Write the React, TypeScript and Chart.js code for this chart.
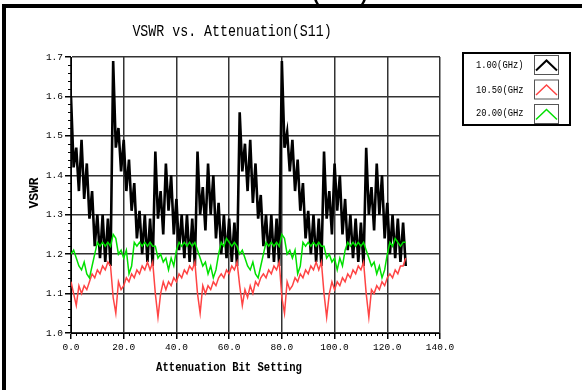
import { useEffect, useRef } from 'react';
import { Chart, registerables } from 'chart.js';

Chart.register(...registerables);

// Attenuation bit settings 0..127 (x positions)
const bitSettings: number[] = Array.from({ length: 128 }, (_, i) => i);

const xTickValues = [0, 20, 40, 60, 80, 100, 120, 140];
const yTickValues = [1.0, 1.1, 1.2, 1.3, 1.4, 1.5, 1.6, 1.7];

const seriesNames = ['1.00(GHz)', '10.50(GHz', '20.00(GHz'];
const seriesColors = ['#000000', '#ff4444', '#00e000'];

const vswr1GHz: number[] = [
  1.60, 1.42, 1.47, 1.36, 1.49, 1.34, 1.43, 1.29, 1.36, 1.22, 1.30, 1.19, 1.30, 1.18, 1.29, 1.17,
  1.69, 1.47, 1.52, 1.41, 1.49, 1.36, 1.44, 1.31, 1.38, 1.24, 1.31, 1.20, 1.30, 1.18, 1.29, 1.17,
  1.46, 1.29, 1.36, 1.25, 1.43, 1.31, 1.40, 1.25, 1.34, 1.21, 1.30, 1.19, 1.30, 1.18, 1.29, 1.17,
  1.46, 1.30, 1.37, 1.26, 1.43, 1.30, 1.40, 1.24, 1.33, 1.20, 1.30, 1.19, 1.29, 1.18, 1.28, 1.17,
  1.56, 1.41, 1.48, 1.36, 1.49, 1.33, 1.43, 1.29, 1.35, 1.22, 1.30, 1.19, 1.30, 1.18, 1.29, 1.17,
  1.69, 1.47, 1.51, 1.41, 1.49, 1.36, 1.44, 1.31, 1.38, 1.24, 1.31, 1.20, 1.30, 1.18, 1.29, 1.17,
  1.46, 1.29, 1.36, 1.25, 1.43, 1.31, 1.40, 1.25, 1.34, 1.21, 1.30, 1.19, 1.29, 1.18, 1.28, 1.17,
  1.47, 1.30, 1.37, 1.26, 1.43, 1.30, 1.40, 1.24, 1.33, 1.20, 1.30, 1.19, 1.29, 1.18, 1.28, 1.17,
];

const vswr10p5GHz: number[] = [
  1.13, 1.10, 1.07, 1.12, 1.10, 1.12, 1.11, 1.13, 1.15, 1.14, 1.16, 1.15, 1.17, 1.16, 1.18, 1.17,
  1.09, 1.05, 1.13, 1.11, 1.12, 1.14, 1.13, 1.15, 1.14, 1.16, 1.15, 1.17, 1.16, 1.18, 1.16, 1.18,
  1.10, 1.04, 1.10, 1.13, 1.11, 1.13, 1.12, 1.14, 1.13, 1.15, 1.14, 1.16, 1.15, 1.17, 1.16, 1.18,
  1.10, 1.05, 1.12, 1.10, 1.12, 1.11, 1.13, 1.12, 1.14, 1.15, 1.14, 1.16, 1.15, 1.17, 1.16, 1.18,
  1.12, 1.07, 1.11, 1.09, 1.12, 1.10, 1.13, 1.12, 1.14, 1.15, 1.14, 1.16, 1.15, 1.17, 1.16, 1.18,
  1.09, 1.05, 1.13, 1.11, 1.12, 1.14, 1.13, 1.15, 1.14, 1.16, 1.15, 1.17, 1.16, 1.18, 1.16, 1.18,
  1.10, 1.04, 1.10, 1.13, 1.11, 1.13, 1.12, 1.14, 1.13, 1.15, 1.14, 1.16, 1.15, 1.17, 1.16, 1.18,
  1.10, 1.04, 1.11, 1.10, 1.12, 1.11, 1.13, 1.12, 1.14, 1.15, 1.14, 1.16, 1.15, 1.17, 1.17, 1.19,
];

const vswr20GHz: number[] = [
  1.20, 1.21, 1.19, 1.17, 1.16, 1.18, 1.15, 1.14, 1.17, 1.20, 1.23, 1.22, 1.23, 1.22, 1.23, 1.22,
  1.25, 1.24, 1.20, 1.21, 1.19, 1.21, 1.15, 1.17, 1.23, 1.22, 1.23, 1.22, 1.23, 1.22, 1.23, 1.22,
  1.22, 1.19, 1.20, 1.18, 1.19, 1.16, 1.19, 1.17, 1.21, 1.23, 1.22, 1.23, 1.22, 1.23, 1.22, 1.23,
  1.21, 1.19, 1.17, 1.18, 1.15, 1.17, 1.14, 1.16, 1.20, 1.23, 1.22, 1.24, 1.23, 1.22, 1.23, 1.22,
  1.20, 1.21, 1.19, 1.17, 1.16, 1.18, 1.15, 1.14, 1.17, 1.20, 1.23, 1.22, 1.23, 1.22, 1.23, 1.22,
  1.25, 1.24, 1.20, 1.21, 1.19, 1.21, 1.15, 1.17, 1.23, 1.22, 1.23, 1.22, 1.23, 1.22, 1.23, 1.22,
  1.22, 1.19, 1.20, 1.18, 1.19, 1.16, 1.19, 1.17, 1.21, 1.23, 1.22, 1.23, 1.22, 1.23, 1.22, 1.23,
  1.21, 1.19, 1.17, 1.18, 1.15, 1.17, 1.14, 1.16, 1.20, 1.23, 1.22, 1.24, 1.23, 1.22, 1.23, 1.23,
];

const seriesValues = [vswr1GHz, vswr10p5GHz, vswr20GHz];

const MONO = '"Liberation Mono", "DejaVu Sans Mono", monospace';

function condensedText(
  ctx: CanvasRenderingContext2D,
  text: string,
  x: number,
  y: number,
  font: string,
  sx: number,
  align: CanvasTextAlign = 'center'
) {
  ctx.save();
  ctx.translate(x, y);
  ctx.scale(sx, 1);
  ctx.font = font;
  ctx.textAlign = align;
  ctx.textBaseline = 'middle';
  ctx.fillText(text, 0, 0);
  ctx.restore();
}

const decorPlugin = {
  id: 'decor',
  afterDraw(chart: any) {
    const ctx: CanvasRenderingContext2D = chart.ctx;
    const xs = chart.scales.x;
    const ys = chart.scales.y;
    const area = chart.chartArea;
    ctx.save();

    // minor ticks
    ctx.strokeStyle = '#000';
    ctx.lineWidth = 1;
    ctx.beginPath();
    for (let k = 1; k < 35; k++) {
      if (k % 5 === 0) continue;
      const y = Math.round(ys.getPixelForValue(1 + k * 0.02)) + 0.5;
      ctx.moveTo(area.left - 3, y);
      ctx.lineTo(area.left, y);
    }
    for (let k = 1; k < 70; k++) {
      if (k % 10 === 0) continue;
      const x = Math.round(xs.getPixelForValue(k * 2)) + 0.5;
      ctx.moveTo(x, area.bottom);
      ctx.lineTo(x, area.bottom + 3);
    }
    ctx.stroke();

    ctx.fillStyle = '#000';
    // chart title
    condensedText(ctx, 'VSWR vs. Attenuation(S11)', 232, 32, `16px ${MONO}`, 0.83);
    // axis titles
    condensedText(ctx, 'Attenuation Bit Setting', 229, 368, `bold 12px ${MONO}`, 0.88);
    ctx.save();
    ctx.translate(35, 193);
    ctx.rotate(-Math.PI / 2);
    condensedText(ctx, 'VSWR', 0, 0, `bold 13px ${MONO}`, 1);
    ctx.restore();

    // cropped heading above the frame
    ctx.font = `bold 20px ${MONO}`;
    ctx.textAlign = 'left';
    ctx.textBaseline = 'alphabetic';
    ctx.fillText('(S11)', 310, 0);

    // outer frame
    ctx.fillStyle = '#000';
    ctx.fillRect(2, 4, 580, 4);
    ctx.fillRect(2, 4, 4, 386);

    // legend
    ctx.lineWidth = 2;
    ctx.strokeStyle = '#000';
    ctx.strokeRect(463, 53, 107, 72);
    const rowY = [55.5, 80, 104.5];
    const textY = [65.5, 90, 113];
    for (let k = 0; k < 3; k++) {
      ctx.fillStyle = '#000';
      condensedText(ctx, seriesNames[k], 476, textY[k], `11px ${MONO}`, 0.8, 'left');
      ctx.lineWidth = 1;
      ctx.strokeStyle = '#555';
      ctx.strokeRect(534.5, rowY[k], 24, 19);
      ctx.beginPath();
      ctx.strokeStyle = seriesColors[k];
      ctx.lineWidth = k === 0 ? 2 : 1.5;
      ctx.moveTo(536, rowY[k] + 15);
      ctx.lineTo(546.5, rowY[k] + 5);
      ctx.lineTo(557, rowY[k] + 15);
      ctx.stroke();
    }

    ctx.restore();
  },
};

export default function App() {
  const ref = useRef<HTMLCanvasElement>(null);

  useEffect(() => {
    if (!ref.current) return;
    const datasets = seriesValues.map((vals, s) => ({
      label: seriesNames[s],
      data: vals.map((v, i) => ({ x: bitSettings[i], y: v })),
      borderColor: seriesColors[s],
      backgroundColor: seriesColors[s],
      borderWidth: s === 0 ? 2.6 : 1.5,
      pointRadius: 0,
      tension: 0,
      fill: false,
      order: 2 - s,
    }));

    const chart = new Chart(ref.current, {
      type: 'line',
      data: { datasets },
      options: {
        animation: false,
        responsive: false,
        devicePixelRatio: 1,
        events: [],
        layout: { padding: { top: 57, right: 142, left: 0, bottom: 0 } },
        plugins: {
          legend: { display: false },
          tooltip: { enabled: false },
          title: { display: false },
        },
        scales: {
          x: {
            type: 'linear',
            min: xTickValues[0],
            max: xTickValues[xTickValues.length - 1],
            afterBuildTicks: (scale: any) => {
              scale.ticks = xTickValues.map((v) => ({ value: v }));
            },
            afterFit: (scale: any) => {
              scale.height = 57;
            },
            ticks: {
              callback: (v: any) => Number(v).toFixed(1),
              color: '#000',
              font: { family: MONO, size: 9.5 },
              padding: 3,
              maxRotation: 0,
              autoSkip: false,
            },
            grid: { color: '#333', lineWidth: 1.5, tickLength: 6, tickColor: '#000' },
            border: { color: '#000', width: 1 },
          },
          y: {
            type: 'linear',
            min: yTickValues[0],
            max: yTickValues[yTickValues.length - 1],
            afterBuildTicks: (scale: any) => {
              scale.ticks = yTickValues.map((v) => ({ value: v }));
            },
            afterFit: (scale: any) => {
              scale.width = 71;
            },
            ticks: {
              callback: (v: any) => Number(v).toFixed(1),
              color: '#000',
              font: { family: MONO, size: 9.5 },
              padding: 2,
              autoSkip: false,
            },
            grid: { color: '#333', lineWidth: 1.5, tickLength: 6, tickColor: '#000' },
            border: { color: '#000', width: 1 },
          },
        },
      },
      plugins: [decorPlugin],
    });
    return () => chart.destroy();
  }, []);

  return (
    <div style={{ position: 'fixed', left: 0, top: 0, width: 582, height: 390, background: '#fff' }}>
      <canvas ref={ref} width={582} height={390} style={{ width: 582, height: 390, display: 'block' }} />
    </div>
  );
}
